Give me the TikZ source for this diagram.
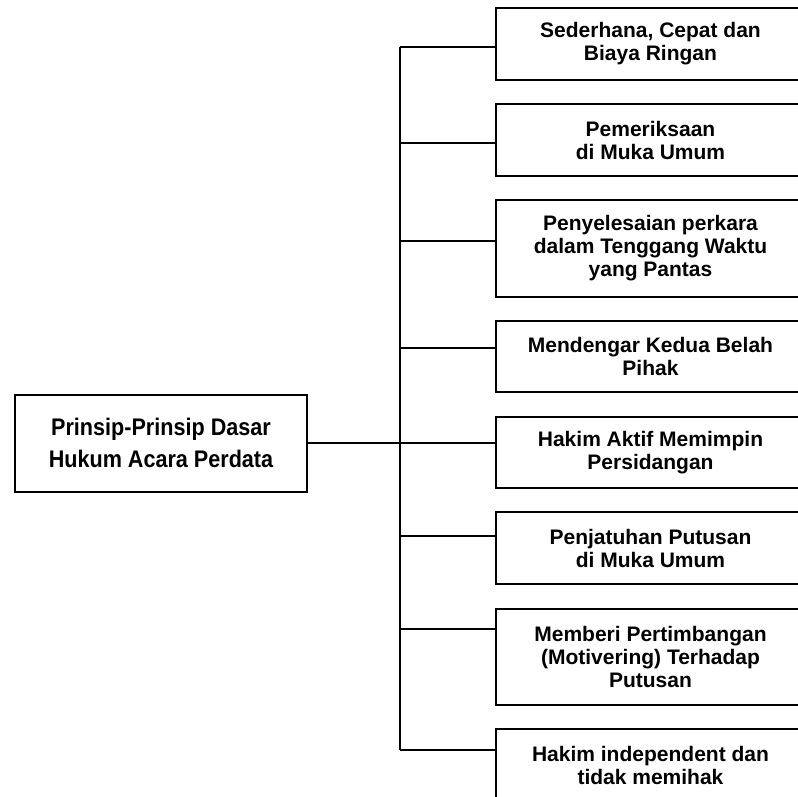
\documentclass[tikz,border=0pt]{standalone}
\usepackage{fontspec}
\setmainfont{Liberation Sans}
\newfontfamily\narrowfont{Liberation Sans}[FakeStretch=0.9]
\begin{document}
\begin{tikzpicture}[x=1pt,y=-1pt,
  itembox/.style={draw, line width=2pt, rectangle, minimum width=309pt, inner sep=0pt,
    align=center, font=\bfseries\fontsize{21}{23}\selectfont},
  mainbox/.style={draw, line width=2pt, rectangle, minimum width=292pt, minimum height=97pt, inner sep=0pt,
    align=center, font=\narrowfont\bfseries\fontsize{24}{32}\selectfont},
  conn/.style={line width=2pt}]
\useasboundingbox (0,0) rectangle (798,797);
\clip (0,0) rectangle (798,797);
\node[mainbox] (m) at (161,443) {Prinsip-Prinsip Dasar\\Hukum Acara Perdata};
\node[itembox, minimum height=72pt] (b1) at (650.5,44) {Sederhana, Cepat dan\\Biaya Ringan};
\node[itembox, minimum height=72pt] (b2) at (650.5,140) {Pemeriksaan\\di Muka Umum};
\node[itembox, minimum height=97pt] (b3) at (650.5,248.5) {Penyelesaian perkara\\dalam Tenggang Waktu\\yang Pantas};
\node[itembox, minimum height=71pt] (b4) at (650.5,356.5) {Mendengar Kedua Belah\\Pihak};
\node[itembox, minimum height=71pt] (b5) at (650.5,452.5) {Hakim Aktif Memimpin\\Persidangan};
\node[itembox, minimum height=72pt] (b6) at (650.5,548) {Penjatuhan Putusan\\di Muka Umum};
\node[itembox, minimum height=96pt] (b7) at (650.5,657) {Memberi Pertimbangan\\(Motivering) Terhadap\\Putusan};
\node[itembox, minimum height=72pt] (b8) at (650.5,765) {Hakim independent dan\\tidak memihak};
\coordinate (j1) at (400,47);
\coordinate (j2) at (400,143);
\coordinate (j3) at (400,241);
\coordinate (j4) at (400,348);
\coordinate (j6) at (400,536);
\coordinate (j7) at (400,629);
\coordinate (j8) at (400,750);
\draw[conn] (j1) -- (j8);
\draw[conn] (m.east) -- (m.east -| b5.west);
\foreach \i in {1,2,3,4,6,7,8} {
  \draw[conn] (j\i) -- (j\i -| b\i.west);
}
\end{tikzpicture}
\end{document}
